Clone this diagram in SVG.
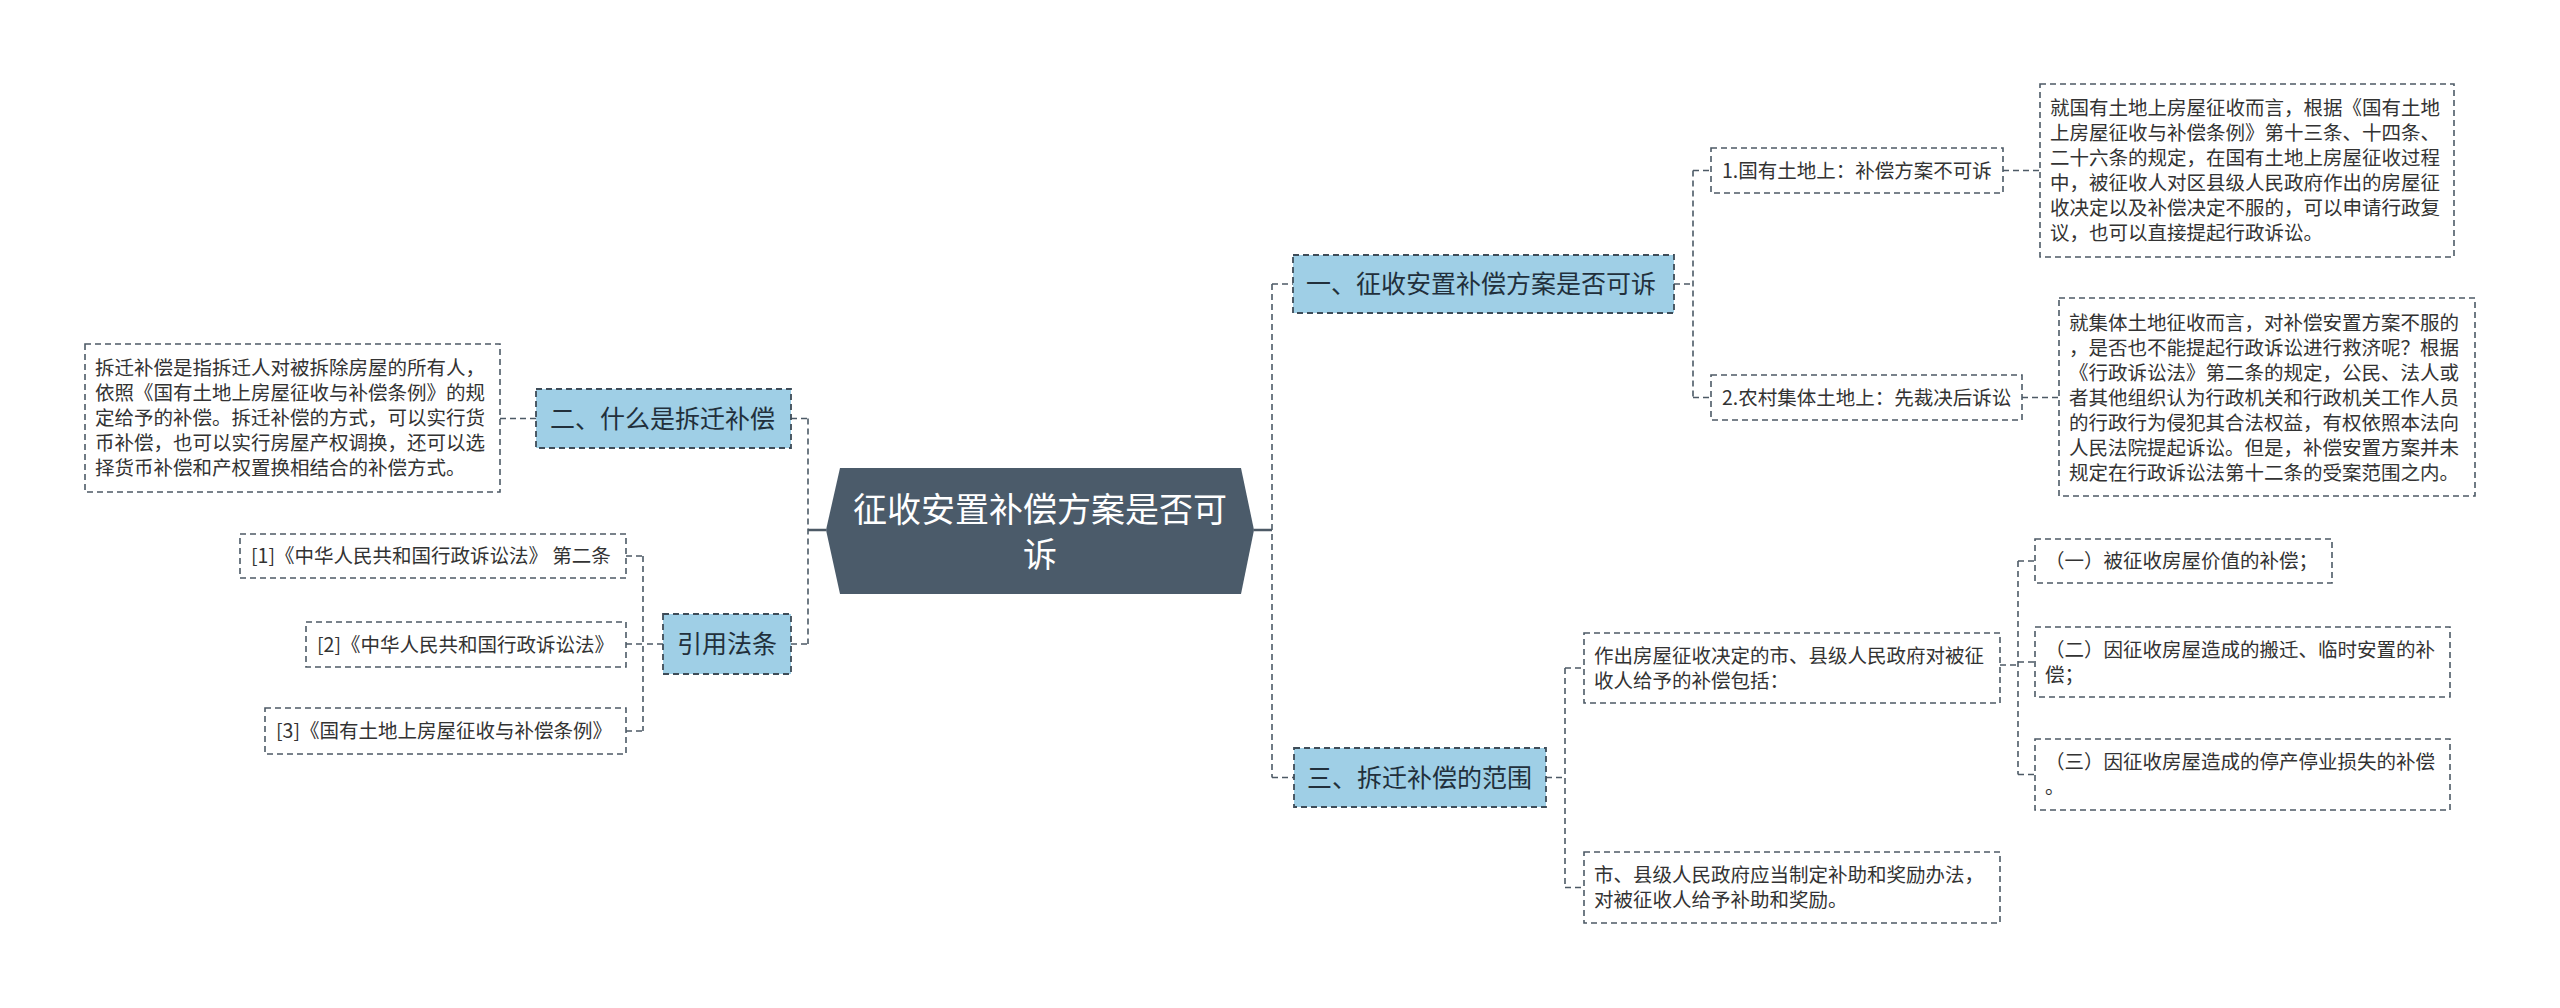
<svg xmlns="http://www.w3.org/2000/svg" width="2560" height="1008" viewBox="0 0 2560 1008">
<style>
.bg{fill:#ffffff}
.conn{fill:none;stroke:#4d5a66;stroke-width:1.6;stroke-dasharray:6,4}
.solid{fill:none;stroke:#4d5a66;stroke-width:2.4}
.box{fill:#ffffff;stroke:#4d5a66;stroke-width:1.6;stroke-dasharray:6,4}
.blue{fill:#9fcfe6;stroke:#3e4c58;stroke-width:1.8;stroke-dasharray:6,4}
.root{fill:#4b5b6a}
.t{font-family:"Noto Sans CJK SC","Microsoft YaHei","Noto Sans",sans-serif;font-size:19.5px;fill:#333333}
.tb{font-family:"Noto Sans CJK SC","Microsoft YaHei","Noto Sans",sans-serif;font-size:25px;fill:#22303c}
.tr{font-family:"Noto Sans CJK SC","Microsoft YaHei","Noto Sans",sans-serif;font-size:34px;fill:#ffffff}
</style>
<rect class="bg" x="0" y="0" width="2560" height="1008"/>
<g id="connectors">
<path class="solid" d="M808 530H826M1254 530H1272"/>
<path class="conn" d="M808 418.5V644M791 418.5H808M791 644H808"/>
<path class="conn" d="M536 418.5H500"/>
<path class="conn" d="M663 644H643M643 556V731M626 556H643M626 644H643M626 731H643"/>
<path class="conn" d="M1272 284V777.5M1272 284H1293M1272 777.5H1294"/>
<path class="conn" d="M1674 284H1693M1693 170.5V397.5M1693 170.5H1711M1693 397.5H1711"/>
<path class="conn" d="M2003 170.5H2040M2022 397.5H2059"/>
<path class="conn" d="M1546 777.5H1565M1565 668V887.5M1565 668H1584M1565 887.5H1584"/>
<path class="conn" d="M2000 665H2018M2018 561V774.5M2018 561H2035M2018 662H2035M2018 774.5H2035"/>
</g>
<g id="root">
<polygon class="root" points="826,530 840,468 1241,468 1254,530 1241,594 840,594"/>
<text class="tr" x="1040" y="522" text-anchor="middle">征收安置补偿方案是否可</text>
<text class="tr" x="1040" y="567" text-anchor="middle">诉</text>
</g>
<g id="n2">
<rect class="blue" x="536" y="389" width="255" height="59"/>
<text class="tb" x="550" y="427.5">二、什么是拆迁补偿</text>
</g>
<g id="n2desc">
<rect class="box" x="85" y="344" width="415" height="148"/>
<text class="t" x="95" y="375">拆迁补偿是指拆迁人对被拆除房屋的所有人，</text>
<text class="t" x="95" y="400">依照《国有土地上房屋征收与补偿条例》的规</text>
<text class="t" x="95" y="425">定给予的补偿。拆迁补偿的方式，可以实行货</text>
<text class="t" x="95" y="450">币补偿，也可以实行房屋产权调换，还可以选</text>
<text class="t" x="95" y="475">择货币补偿和产权置换相结合的补偿方式。</text>
</g>
<g id="cite">
<rect class="blue" x="663" y="614" width="128" height="60"/>
<text class="tb" x="677" y="653">引用法条</text>
</g>
<g id="cite1">
<rect class="box" x="240" y="534" width="386" height="44"/>
<text class="t" x="251" y="563">[1]《中华人民共和国行政诉讼法》 第二条</text>
</g>
<g id="cite2">
<rect class="box" x="306" y="622" width="320" height="45"/>
<text class="t" x="317" y="651.5">[2]《中华人民共和国行政诉讼法》</text>
</g>
<g id="cite3">
<rect class="box" x="265" y="708" width="361" height="46"/>
<text class="t" x="276" y="738">[3]《国有土地上房屋征收与补偿条例》</text>
</g>
<g id="n1">
<rect class="blue" x="1293" y="255" width="381" height="58"/>
<text class="tb" x="1306" y="293">一、征收安置补偿方案是否可诉</text>
</g>
<g id="n1a">
<rect class="box" x="1711" y="148" width="292" height="45"/>
<text class="t" x="1722" y="177.5">1.国有土地上：补偿方案不可诉</text>
</g>
<g id="n1adesc">
<rect class="box" x="2040" y="84" width="414" height="173"/>
<text class="t" x="2050" y="115">就国有土地上房屋征收而言，根据《国有土地</text>
<text class="t" x="2050" y="140">上房屋征收与补偿条例》第十三条、十四条、</text>
<text class="t" x="2050" y="165">二十六条的规定，在国有土地上房屋征收过程</text>
<text class="t" x="2050" y="190">中，被征收人对区县级人民政府作出的房屋征</text>
<text class="t" x="2050" y="215">收决定以及补偿决定不服的，可以申请行政复</text>
<text class="t" x="2050" y="240">议，也可以直接提起行政诉讼。</text>
</g>
<g id="n1b">
<rect class="box" x="1711" y="375" width="311" height="45"/>
<text class="t" x="1722" y="404.5">2.农村集体土地上：先裁决后诉讼</text>
</g>
<g id="n1bdesc">
<rect class="box" x="2059" y="298" width="416" height="198"/>
<text class="t" x="2069" y="330">就集体土地征收而言，对补偿安置方案不服的</text>
<text class="t" x="2069" y="355">，是否也不能提起行政诉讼进行救济呢？根据</text>
<text class="t" x="2069" y="380">《行政诉讼法》第二条的规定，公民、法人或</text>
<text class="t" x="2069" y="405">者其他组织认为行政机关和行政机关工作人员</text>
<text class="t" x="2069" y="430">的行政行为侵犯其合法权益，有权依照本法向</text>
<text class="t" x="2069" y="455">人民法院提起诉讼。但是，补偿安置方案并未</text>
<text class="t" x="2069" y="480">规定在行政诉讼法第十二条的受案范围之内。</text>
</g>
<g id="n3">
<rect class="blue" x="1294" y="748" width="252" height="59"/>
<text class="tb" x="1307" y="786.5">三、拆迁补偿的范围</text>
</g>
<g id="n3a">
<rect class="box" x="1584" y="633" width="416" height="70"/>
<text class="t" x="1594" y="663">作出房屋征收决定的市、县级人民政府对被征</text>
<text class="t" x="1594" y="688">收人给予的补偿包括：</text>
</g>
<g id="n3b">
<rect class="box" x="1584" y="852" width="416" height="71"/>
<text class="t" x="1594" y="882">市、县级人民政府应当制定补助和奖励办法，</text>
<text class="t" x="1594" y="907">对被征收人给予补助和奖励。</text>
</g>
<g id="n3a1">
<rect class="box" x="2035" y="539" width="297" height="44"/>
<text class="t" x="2045" y="568">（一）被征收房屋价值的补偿；</text>
</g>
<g id="n3a2">
<rect class="box" x="2035" y="627" width="415" height="70"/>
<text class="t" x="2045" y="657">（二）因征收房屋造成的搬迁、临时安置的补</text>
<text class="t" x="2045" y="682">偿；</text>
</g>
<g id="n3a3">
<rect class="box" x="2035" y="739" width="415" height="71"/>
<text class="t" x="2045" y="769">（三）因征收房屋造成的停产停业损失的补偿</text>
<text class="t" x="2045" y="794">。</text>
</g>
</svg>
